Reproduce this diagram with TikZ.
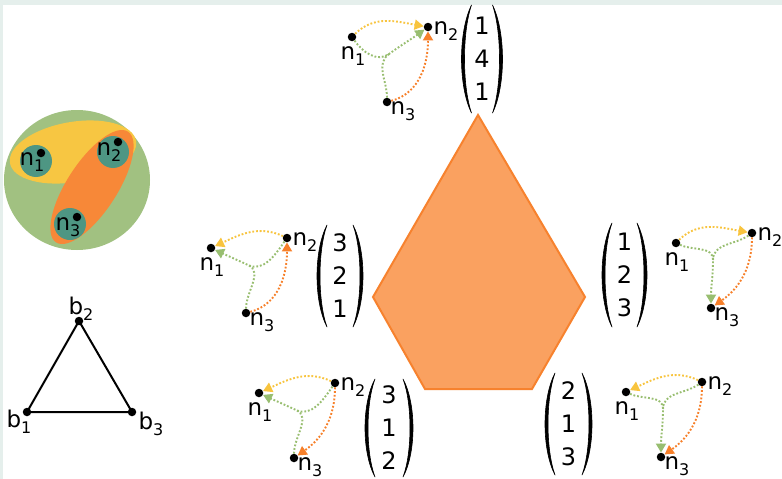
\documentclass[tikz,border=0pt]{standalone}
\usepackage{fontspec}
\setmainfont{DejaVu Sans}
\usetikzlibrary{arrows.meta,calc}
\definecolor{ycol}{RGB}{248,196,62}
\definecolor{gcol}{RGB}{152,190,112}
\definecolor{ocol}{RGB}{247,128,42}
\definecolor{pfill}{RGB}{250,161,96}
\definecolor{pline}{RGB}{247,130,46}
\definecolor{bigg}{RGB}{161,193,129}
\definecolor{elly}{RGB}{247,198,66}
\definecolor{ello}{RGB}{247,136,56}
\definecolor{tealc}{RGB}{78,150,131}
\definecolor{band}{RGB}{229,239,236}

\newcommand\nlab[1]{n\raisebox{-5.5pt}{\fontsize{16}{16}\selectfont #1}}
\newcommand\blab[1]{b\raisebox{-6pt}{\fontsize{16}{16}\selectfont #1}}

\tikzset{
 dot/.style={circle,fill=black,inner sep=0pt,minimum size=8.5pt},
 lab/.style={inner sep=0pt,font=\fontsize{23}{26}\selectfont},
 vnum/.style={align=center,inner sep=0pt,font=\fontsize{24}{33}\selectfont},
 hyp/.style={line width=1.9pt,dash pattern=on 1.8pt off 1.9pt,-{Triangle[length=9pt,width=10pt]}},
 ye/.style={hyp,draw=ycol},
 ge/.style={hyp,draw=gcol},
 gs/.style={line width=1.9pt,dash pattern=on 1.8pt off 1.9pt,draw=gcol},
 oe/.style={hyp,draw=ocol},
 paren/.style={fill=black,draw=black,line width=0.6pt,line join=round},
 tealdisc/.style={circle,fill=tealc,inner sep=0pt,minimum size=32pt},
}

% graph: prefix, base x, base y (screen)
\newcommand\hgraph[3]{%
 \node[dot] (#1a) at (#2+1,-#3-10) {};
 \node[dot] (#1b) at (#2+77,-#3) {};
 \node[dot] (#1c) at (#2+36,-#3-75) {};
 \coordinate (#1m) at (#2+38,-#3-27);
 \node[lab] (#1na) at (#2+2,-#3-29) {\nlab{1}};
 \node[lab] (#1nb) at (#2+95,-#3-4) {\nlab{2}};
 \node[lab] (#1nc) at (#2+52,-#3-84) {\nlab{3}};
}
% vector: name, cx, cy, d1, d2, d3, half width, half height
\newcommand\pvec[8]{%
 \node[vnum] (#1) at (#2,-#3) {#4\\#5\\#6};
 \fill[paren] (#2-#7+10,-#3+#8) .. controls (#2-#7-3.33,-#3+0.5*#8) and (#2-#7-3.33,-#3-0.5*#8) .. (#2-#7+10,-#3-#8)
   .. controls (#2-#7+0.67,-#3-0.5*#8) and (#2-#7+0.67,-#3+0.5*#8) .. cycle;
 \fill[paren] (#2+#7-10,-#3+#8) .. controls (#2+#7+3.33,-#3+0.5*#8) and (#2+#7+3.33,-#3-0.5*#8) .. (#2+#7-10,-#3-#8)
   .. controls (#2+#7-0.67,-#3-0.5*#8) and (#2+#7-0.67,-#3+0.5*#8) .. cycle;
}

\begin{document}
\begin{tikzpicture}[x=1pt,y=1pt]
\useasboundingbox (0,0) rectangle (782,-479);
\fill[white] (0,0) rectangle (782,-479);
\fill[band] (0,0) rectangle (782,-5);
\fill[band] (0,0) rectangle (3,-479);

% left panel: sets
\fill[bigg] (77,-180) ellipse [x radius=73, y radius=70];
\fill[elly, rotate around={10:(73,-152)}] (73,-152) ellipse [x radius=64, y radius=30];
\fill[ello, rotate around={57:(92,-187)}] (92,-187) ellipse [x radius=66, y radius=25];
\node[tealdisc] (c1) at (36,-161) {};
\node[tealdisc] (c2) at (113,-152) {};
\node[tealdisc] (c3) at (70,-224) {};
\node[lab] (cl1) at (32,-162) {\nlab{1}};
\node[lab] (cl2) at (109,-152) {\nlab{2}};
\node[lab] (cl3) at (68,-227) {\nlab{3}};
\node[dot] (cd1) at (41,-153) {};
\node[dot] (cd2) at (118,-142) {};
\node[dot] (cd3) at (77,-217) {};

% triangle
\node[dot] (b1) at (27,-412) {};
\node[dot] (b2) at (79,-321) {};
\node[dot] (b3) at (132,-412) {};
\draw[line width=2pt,line join=round] (b1.center) -- (b2.center) -- (b3.center) -- cycle;
\node[lab] (bl1) at (19,-422) {\blab{1}};
\node[lab] (bl2) at (81,-309) {\blab{2}};
\node[lab] (bl3) at (151,-424) {\blab{3}};

% pentagon
\draw[draw=pline, fill=pfill, line width=2pt, line join=miter]
  (478,-115) -- (585,-297) -- (532,-389) -- (425,-389) -- (373,-297) -- cycle;

% vectors
\pvec{vT}{482}{59}{1}{4}{1}{20.5}{54}
\pvec{vL}{340}{276}{3}{2}{1}{23}{51}
\pvec{vR}{624.5}{275}{1}{2}{3}{22.5}{52}
\pvec{vP}{389}{428}{3}{1}{2}{24}{49}
\pvec{vQ}{568.5}{424}{2}{1}{3}{23.5}{51}

% graphs
\hgraph{T}{351}{27}
\hgraph{L}{210}{238}
\hgraph{R}{675}{233}
\hgraph{P}{258}{383}
\hgraph{Q}{625}{382}

% top: target n2
\draw[ye] (Ta) to[out=45,in=170] (Tb);
\draw[gs] (Tc) to[out=90,in=216] (Tm);
\draw[ge] (Ta) to[out=-55,in=216] (Tm) to[out=36,in=216] (Tb);
\draw[oe] (Tc) to[out=15,in=270] (Tb);

% left: target n1
\draw[ye] (Lb) to[out=155,in=25] (La);
\draw[gs] (Lc) to[out=90,in=-25] (Lm);
\draw[ge] (Lb) to[out=235,in=-25] (Lm) to[out=155,in=-25] (La);
\draw[oe] (Lc) to[out=15,in=270] (Lb);

% right: target n3
\draw[ye] (Ra) to[out=45,in=170] (Rb);
\draw[gs] (Rb) to[out=215,in=90] (Rm);
\draw[ge] (Ra) to[out=-25,in=90] (Rm) to[out=270,in=90] (Rc);
\draw[oe] (Rb) to[out=270,in=35] (Rc);

% bottom left: target n1
\draw[ye] (Pb) to[out=155,in=25] (Pa);
\draw[gs] (Pc) to[out=90,in=-25] (Pm);
\draw[ge] (Pb) to[out=235,in=-25] (Pm) to[out=155,in=-25] (Pa);
\draw[oe] (Pb) to[out=270,in=35] (Pc);

% bottom right: target n3
\draw[ye] (Qb) to[out=155,in=25] (Qa);
\draw[gs] (Qb) to[out=215,in=90] (Qm);
\draw[ge] (Qa) to[out=-25,in=90] (Qm) to[out=270,in=90] (Qc);
\draw[oe] (Qb) to[out=270,in=35] (Qc);
\end{tikzpicture}
\end{document}
